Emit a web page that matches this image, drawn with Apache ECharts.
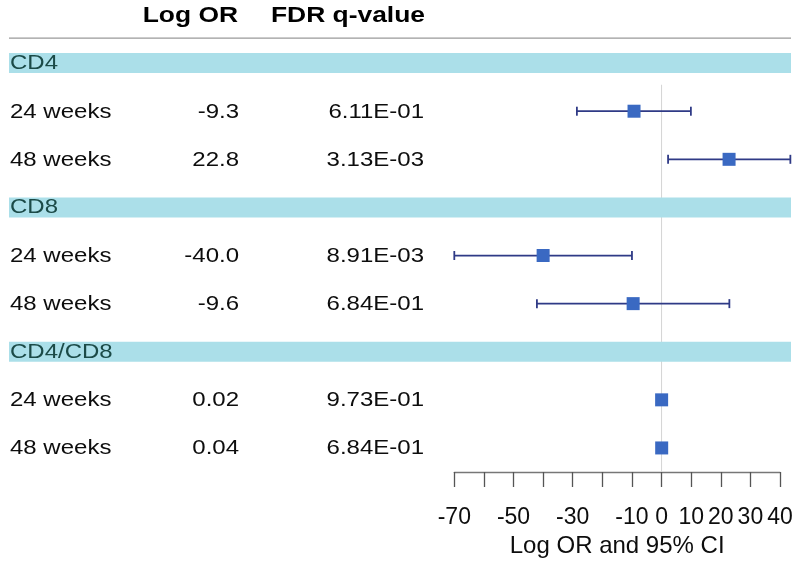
<!DOCTYPE html>
<html>
<head>
<meta charset="utf-8">
<script src="https://cdn.jsdelivr.net/npm/echarts@6/dist/echarts.min.js"></script>
<style>
  html, body { margin: 0; padding: 0; background: #ffffff; }
  #chart { width: 800px; height: 565px; }
</style>
</head>
<body>
<div id="chart"></div>
<script>
// ---- data ----
const groups = ['CD4', 'CD8', 'CD4/CD8'];
const rowGroup = [0, 0, 1, 1, 2, 2];
const rowLabels = ['24 weeks', '48 weeks', '24 weeks', '48 weeks', '24 weeks', '48 weeks'];
const logOR = [-9.3, 22.8, -40.0, -9.6, 0.02, 0.04];
const logORText = ['-9.3', '22.8', '-40.0', '-9.6', '0.02', '0.04'];
const ciLow = [-28.6, 2.2, -70.0, -42.1, null, null];
const ciHigh = [9.9, 43.5, -10.0, 22.9, null, null];
const fdrQ = ['6.11E-01', '3.13E-03', '8.91E-03', '6.84E-01', '9.73E-01', '6.84E-01'];
const headers = ['Log OR', 'FDR q-value'];
const tickLabels = [-70, -50, -30, -10, 0, 10, 20, 30, 40];
const axisTitle = 'Log OR and 95% CI';

// ---- row layout (row index along the y axis) ----
const groupRow = [];
const dataRow = [];
let r = 0;
groups.forEach(function (g, gi) {
  groupRow.push(r++);
  rowGroup.forEach(function (rg, i) { if (rg === gi) dataRow[i] = r++; });
});

const FONT = '"Liberation Sans", Arial, Helvetica, sans-serif';
const SX = 1.2;
function txt(x, y, text, opts) {
  return {
    type: 'text', x: x, y: y, scaleX: SX,
    style: Object.assign({
      text: text, fill: '#0d0d0d', font: '20px ' + FONT,
      align: 'left', verticalAlign: 'middle'
    }, opts || {})
  };
}

const chart = echarts.init(document.getElementById('chart'), null, { renderer: 'canvas' });

const option = {
  animation: false,
  backgroundColor: '#ffffff',
  grid: { left: 454.3, right: 20, top: 15, bottom: 93, containLabel: false },
  xAxis: {
    type: 'value', min: -70, max: 40, interval: 10, position: 'bottom',
    axisLine: { show: true, onZero: false, lineStyle: { color: '#777', width: 1.3 } },
    axisTick: { show: true, length: 15, lineStyle: { color: '#555', width: 1.3 } },
    splitLine: { show: false },
    axisLabel: {
      margin: 34, fontSize: 23, color: '#0d0d0d', fontFamily: FONT,
      formatter: function (v) { return tickLabels.indexOf(v) >= 0 ? String(v) : ''; }
    },
    name: axisTitle, nameLocation: 'middle', nameGap: 58,
    nameTextStyle: { fontSize: 24, color: '#0d0d0d', fontFamily: FONT }
  },
  yAxis: { type: 'value', min: -1, max: 8.5, inverse: true, show: false },
  series: [
    { // zero reference line
      type: 'custom', z: 1, silent: true,
      data: [[0, 0.45, 8.5]],
      renderItem: function (params, api) {
        const a = api.coord([api.value(0), api.value(1)]);
        const b = api.coord([api.value(0), api.value(2)]);
        return { type: 'line', shape: { x1: a[0], y1: a[1], x2: b[0], y2: b[1] },
                 style: { stroke: '#d4d4d4', lineWidth: 1 } };
      }
    },
    { // group bands
      type: 'custom', z: 2, silent: true,
      data: groups.map(function (g, gi) { return [0, groupRow[gi], gi]; }),
      renderItem: function (params, api) {
        const y = api.coord([0, api.value(1)])[1];
        const gi = api.value(2);
        return { type: 'group', children: [
          { type: 'rect', shape: { x: 9, y: y - 10, width: 782, height: 20 }, style: { fill: '#abdfe9' } },
          txt(10, y + 0.5, groups[gi], { fill: '#1b4a47' })
        ] };
      }
    },
    { // header and rule
      type: 'custom', z: 3, silent: true,
      data: [[0, -1, -0.52]],
      renderItem: function (params, api) {
        const yh = api.coord([0, api.value(1)])[1];
        const yl = api.coord([0, api.value(2)])[1];
        return { type: 'group', children: [
          { type: 'line', shape: { x1: 9, y1: yl, x2: 791, y2: yl }, style: { stroke: '#9a9a9a', lineWidth: 1.2 } },
          txt(238, yh + 0.5, headers[0], { font: 'bold 22px ' + FONT, align: 'right', fill: '#000' }),
          txt(425, yh + 0.5, headers[1], { font: 'bold 22px ' + FONT, align: 'right', fill: '#000' })
        ] };
      }
    },
    { // confidence intervals
      type: 'custom', z: 4, silent: true,
      data: logOR.map(function (v, i) { return [ciLow[i], ciHigh[i], dataRow[i]]; })
                 .filter(function (d) { return d[0] !== null; }),
      renderItem: function (params, api) {
        const a = api.coord([api.value(0), api.value(2)]);
        const b = api.coord([api.value(1), api.value(2)]);
        const st = { stroke: '#2f3a86', lineWidth: 1.8 };
        const h = 4.5;
        return { type: 'group', children: [
          { type: 'line', shape: { x1: a[0], y1: a[1], x2: b[0], y2: b[1] }, style: st },
          { type: 'line', shape: { x1: a[0], y1: a[1] - h, x2: a[0], y2: a[1] + h }, style: st },
          { type: 'line', shape: { x1: b[0], y1: b[1] - h, x2: b[0], y2: b[1] + h }, style: st }
        ] };
      }
    },
    { // point estimates
      type: 'scatter', z: 5, symbol: 'rect', symbolSize: 13,
      itemStyle: { color: '#3a69c2', opacity: 1 },
      data: logOR.map(function (v, i) { return [v, dataRow[i]]; })
    },
    { // table text
      type: 'custom', z: 6, silent: true,
      data: rowLabels.map(function (l, i) { return [0, dataRow[i], i]; }),
      renderItem: function (params, api) {
        const y = api.coord([0, api.value(1)])[1] + 1;
        const i = api.value(2);
        return { type: 'group', children: [
          txt(10, y, rowLabels[i]),
          txt(239, y, logORText[i], { align: 'right' }),
          txt(424, y, fdrQ[i], { align: 'right' })
        ] };
      }
    }
  ]
};
chart.setOption(option);
</script>
</body>
</html>
